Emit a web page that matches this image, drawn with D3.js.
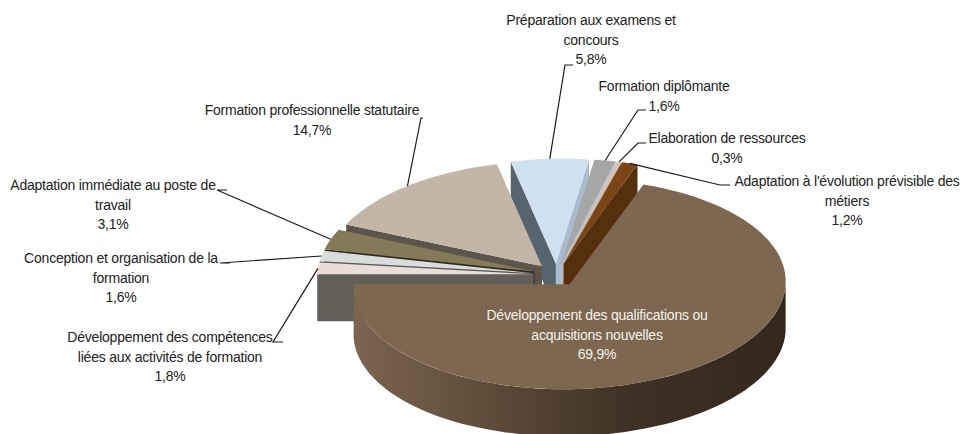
<!DOCTYPE html>
<html>
<head>
<meta charset="utf-8">
<script src="https://cdn.jsdelivr.net/npm/d3@7"></script>
<style>
  html, body { margin: 0; padding: 0; background: #fff; overflow: hidden; }
  text { font-family: "Liberation Sans", Arial, sans-serif; font-size: 14px; letter-spacing: -0.22px; text-anchor: middle; }
</style>
</head>
<body>
<div id="chart"></div>
<script>
// clockwise from the big slice
var categories = [
  "Développement des qualifications ou acquisitions nouvelles",
  "Développement des compétences liées aux activités de formation",
  "Conception et organisation de la formation",
  "Adaptation immédiate au poste de travail",
  "Formation professionnelle statutaire",
  "Préparation aux examens et concours",
  "Formation diplômante",
  "Elaboration de ressources",
  "Adaptation à l'évolution prévisible des métiers"
];
var values = [69.9, 1.8, 1.6, 3.1, 14.7, 5.8, 1.6, 0.3, 1.2];
var valueLabels = ["69,9%", "1,8%", "1,6%", "3,1%", "14,7%", "5,8%", "1,6%", "0,3%", "1,2%"];
var labelLines = [
  ["Développement des qualifications ou", "acquisitions nouvelles"],
  ["Développement des compétences", "liées aux activités de formation"],
  ["Conception et organisation de la", "formation"],
  ["Adaptation immédiate au poste de", "travail"],
  ["Formation professionnelle statutaire"],
  ["Préparation aux examens et", "concours"],
  ["Formation diplômante"],
  ["Elaboration de ressources"],
  ["Adaptation à l'évolution prévisible des", "métiers"]
];
var topColors  = ["#7d6750", "#eadcd6", "#d9dcdc", "#857a58", "#c4b6a6", "#cfe0ef", "#a6a6a6", "#d9c3b0", "#7a4516"];
var wallColors = ["#33271e", "#625f59", "#55585a", "#2e2a1e", "#5c554c", "#566470", "#8f8f8f", "#a89684", "#55300f"];
var endWallColors = { 5: "#a9bccd", 6: "#b4c2cf", 7: "#b9a896", 8: "#55300f" };

// label centre x, y of first line centre, then leader elbow (from text side to bend)
var labelPos = [[597, 315], [170, 337], [121, 258], [113, 185], [312, 110], [591, 20], [664, 86], [727, 138], [847, 181]];
var leaders = [null, [[283, 342], [273, 342]], [[230, 263], [220, 263]], [[227, 190], [217, 190]],
  [[423, 118], [421, 118]], [[573, 65], [565, 65]], [[646, 110], [638, 110]], [[646, 143], [638, 143]], [[730, 185], [720, 185]]];

var width = 962, height = 434;
var cx = 556.5, cy = 275, rx = 216, ry = 105, shear = 6, explode = 0.108, depth = 47;
var rad = Math.PI / 180;

var svg = d3.select("#chart").append("svg")
    .attr("width", width)
    .attr("height", height)
    .style("display", "block");

var grad = svg.append("defs").append("linearGradient")
    .attr("id", "bigWall")
    .attr("gradientUnits", "userSpaceOnUse")
    .attr("x1", 354).attr("x2", 785).attr("y1", 0).attr("y2", 0);
grad.append("stop").attr("offset", "0").attr("stop-color", "#7a6551");
grad.append("stop").attr("offset", "0.3").attr("stop-color", "#5f4c3b");
grad.append("stop").attr("offset", "0.65").attr("stop-color", "#3e3023");
grad.append("stop").attr("offset", "1").attr("stop-color", "#33271e");

var pie = d3.pie().sort(null).startAngle(18.4 * rad).endAngle((18.4 + 360) * rad);
var slices = pie(values).map(function(d, i) { d.i = i; return d; });

function mid(d) { return (d.startAngle + d.endAngle) / 2; }

// slice local radius/angle -> screen point
function point(d, r, a, z) {
  var m = mid(d);
  var X = explode * Math.sin(m) + r * Math.sin(a);
  var Y = explode * Math.cos(m) + r * Math.cos(a);
  return [cx + rx * X + shear * Y, cy - ry * Y + (z || 0)];
}

function arcPoints(d, a0, a1, z) {
  var n = Math.max(2, Math.ceil((a1 - a0) / (2 * rad)));
  return d3.range(n + 1).map(function(k) { return point(d, 1, a0 + (a1 - a0) * k / n, z); });
}

var line = d3.line();

// painter order: top slices first, big one last
var order = [5, 6, 7, 8, 4, 3, 2, 1, 0];
order.forEach(function(i) {
  var d = slices[i];
  var g = svg.append("g");
  var a0 = d.startAngle, a1 = d.endAngle;

  if (Math.sin(a1) > 0) {
    g.append("path")
      .attr("d", line([point(d, 1, a1), point(d, 0, a1), point(d, 0, a1, depth), point(d, 1, a1, depth)]) + "Z")
      .attr("fill", endWallColors[i] || wallColors[i]);
  }
  if (Math.sin(a0) < 0) {
    g.append("path")
      .attr("d", line([point(d, 1, a0), point(d, 0, a0), point(d, 0, a0, depth), point(d, 1, a0, depth)]) + "Z")
      .attr("fill", wallColors[i]);
  }
  // rim is only seen on the near half
  var r0 = Math.max(a0, 90 * rad), r1 = Math.min(a1, 270 * rad);
  if (r1 > r0) {
    var rim = arcPoints(d, r0, r1, 0).concat(arcPoints(d, r0, r1, depth).reverse());
    g.append("path").attr("d", line(rim) + "Z").attr("fill", "url(#bigWall)");
  }
  var top = [point(d, 0, a0)].concat(arcPoints(d, a0, a1, 0));
  g.append("path").attr("d", line(top) + "Z").attr("fill", topColors[i]);
});

// leader lines run from the label elbow to the rim of the slice
slices.forEach(function(d, i) {
  if (!leaders[i]) return;
  svg.append("path")
    .attr("d", line(leaders[i].concat([point(d, 1, mid(d))])))
    .attr("fill", "none")
    .attr("stroke", "#1a1a1a")
    .attr("stroke-width", 1.2);
});

slices.forEach(function(d, i) {
  var rows = labelLines[i].concat([valueLabels[i]]);
  var t = svg.append("text")
    .attr("fill", i === 0 ? "#f4f1ec" : "#222");
  rows.forEach(function(row, k) {
    t.append("tspan")
      .attr("x", labelPos[i][0])
      .attr("y", labelPos[i][1] + 5 + k * 19.5)
      .text(row);
  });
});
</script>
</body>
</html>
